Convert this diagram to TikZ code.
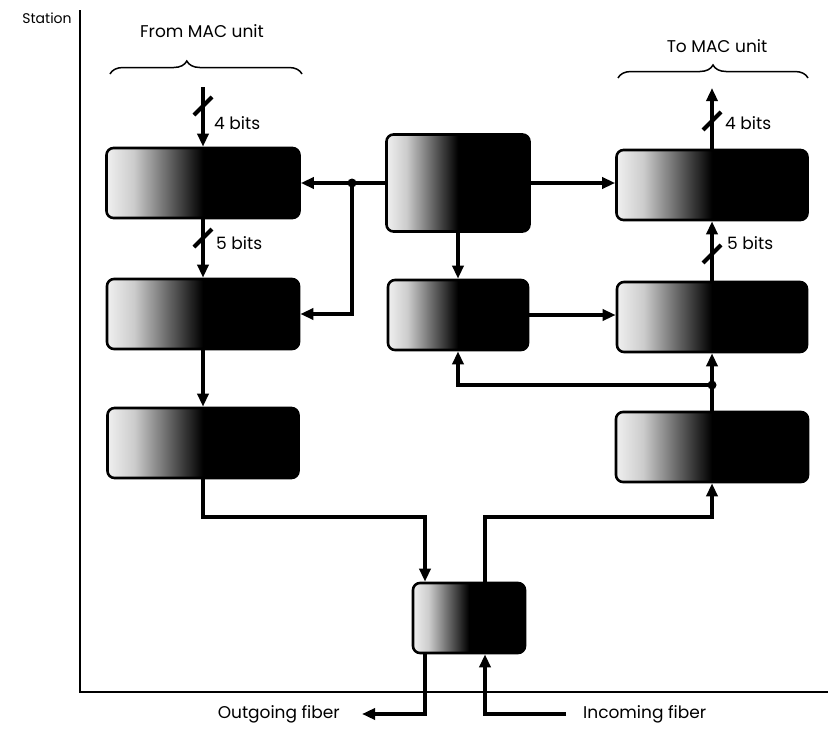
\documentclass[tikz,border=0pt]{standalone}
\usepackage{fontspec}
\setmainfont{Poppins}
\usetikzlibrary{arrows.meta,decorations.pathreplacing,calc}
\pgfdeclarehorizontalshading{boxshade}{100bp}{color(0bp)=(black!6); color(25bp)=(black!6); color(32bp)=(black!20); color(41bp)=(black!60); color(50bp)=(black); color(100bp)=(black)}
\tikzset{
  blk/.style={draw=black, line width=2.6pt, rounded corners=7pt, shading=boxshade, minimum height=70pt, inner sep=0pt},
  arr/.style={line width=4.2pt, -{Triangle[length=13pt,width=11pt]}},
  sl/.style={line width=4pt},
  lbl/.style={font=\fontsize{17}{19}\selectfont, inner sep=0pt},
  dotn/.style={circle, fill=black, minimum size=9pt, inner sep=0pt},
  brc/.style={line width=1.5pt, decorate, decoration={brace, amplitude=13pt}},
}
\begin{document}
\begin{tikzpicture}[x=1pt,y=-1pt]
\useasboundingbox (0,0) rectangle (828,731);
% axes
\draw[line width=2.2pt] (80,10) -- (80,692) -- (828,692);
\node[font=\fontsize{14}{16}\selectfont, inner sep=0pt] (st) at (47,18) {Station};
% boxes
\node[blk, minimum width=193pt] (b1) at (203,183) {};
\node[blk, minimum width=192pt] (b2) at (203,314) {};
\node[blk, minimum width=191pt] (b3) at (203,443) {};
\node[blk, minimum width=143pt, minimum height=97pt] (c1) at (458,183) {};
\node[blk, minimum width=140pt] (c2) at (458,315) {};
\node[blk, minimum width=191pt] (r1) at (712,185) {};
\node[blk, minimum width=190pt] (r2) at (712,317) {};
\node[blk, minimum width=192pt] (r3) at (712,447) {};
\node[blk, minimum width=112pt] (bt) at (469,618) {};
% braces and headings
\draw[brc, decoration={aspect=0.4}] (110,74) -- (302,74);
\draw[brc] (618,78) -- (808,78);
\node[lbl] (fm) at (202,31) {From MAC unit};
\node[lbl] (tm) at (717,46) {To MAC unit};
% left column
\coordinate (inL) at (203,87);
\draw[arr] (inL) -- (b1.north);
\draw[arr] (b1.south) -- (b2.north);
\draw[arr] (b2.south) -- (b3.north);
\draw[sl] (203,106) ++(-9,9) -- ++(18,-18);
\draw[sl] (203,238) ++(-9,9) -- ++(18,-18);
\node[lbl, anchor=west] (l4) at (214,123) {4 bits};
\node[lbl, anchor=west] (l5) at (216,243) {5 bits};
% center
\coordinate (j1) at (352,183);
\draw[arr] (c1.west) -- (b1.east);
\draw[arr] (j1) |- (b2.east);
\node[dotn] at (j1) {};
\draw[arr] (c1.east) -- (r1.west |- c1.east);
\draw[arr] (c1.south) -- (c2.north);
\draw[arr] (c2.east) -- (r2.west |- c2.east);
% right column
\coordinate (outR) at (712,88);
\draw[arr] (r1.north) -- (outR);
\draw[arr] (r2.north) -- (r1.south);
\draw[arr] (r3.north) -- (r2.south);
\coordinate (j2) at (712,385);
\draw[arr] (j2) -| (c2.south);
\node[dotn] at (j2) {};
\draw[sl] (712,121) ++(-9,9) -- ++(18,-18);
\draw[sl] (712,254) ++(-9,9) -- ++(18,-18);
\node[lbl, anchor=west] (r4l) at (725,123) {4 bits};
\node[lbl, anchor=west] (r5l) at (727,243) {5 bits};
% bottom routing
\coordinate (p1) at (425,517);
\coordinate (p2) at (485,517);
\draw[arr] (b3.south) |- (p1) -- (bt.north -| p1);
\draw[arr] (bt.north -| p2) -- (p2) -| (r3.south);
\node[lbl, anchor=east] (of) at (340,714) {Outgoing fiber};
\node[lbl, anchor=west] (inf) at (583,714) {Incoming fiber};
\draw[arr] (bt.south -| p1) |- ($(of.east)+(22,0)$);
\draw[arr] ($(inf.west)+(-17,0)$) -| (bt.south -| p2);
\end{tikzpicture}
\end{document}
